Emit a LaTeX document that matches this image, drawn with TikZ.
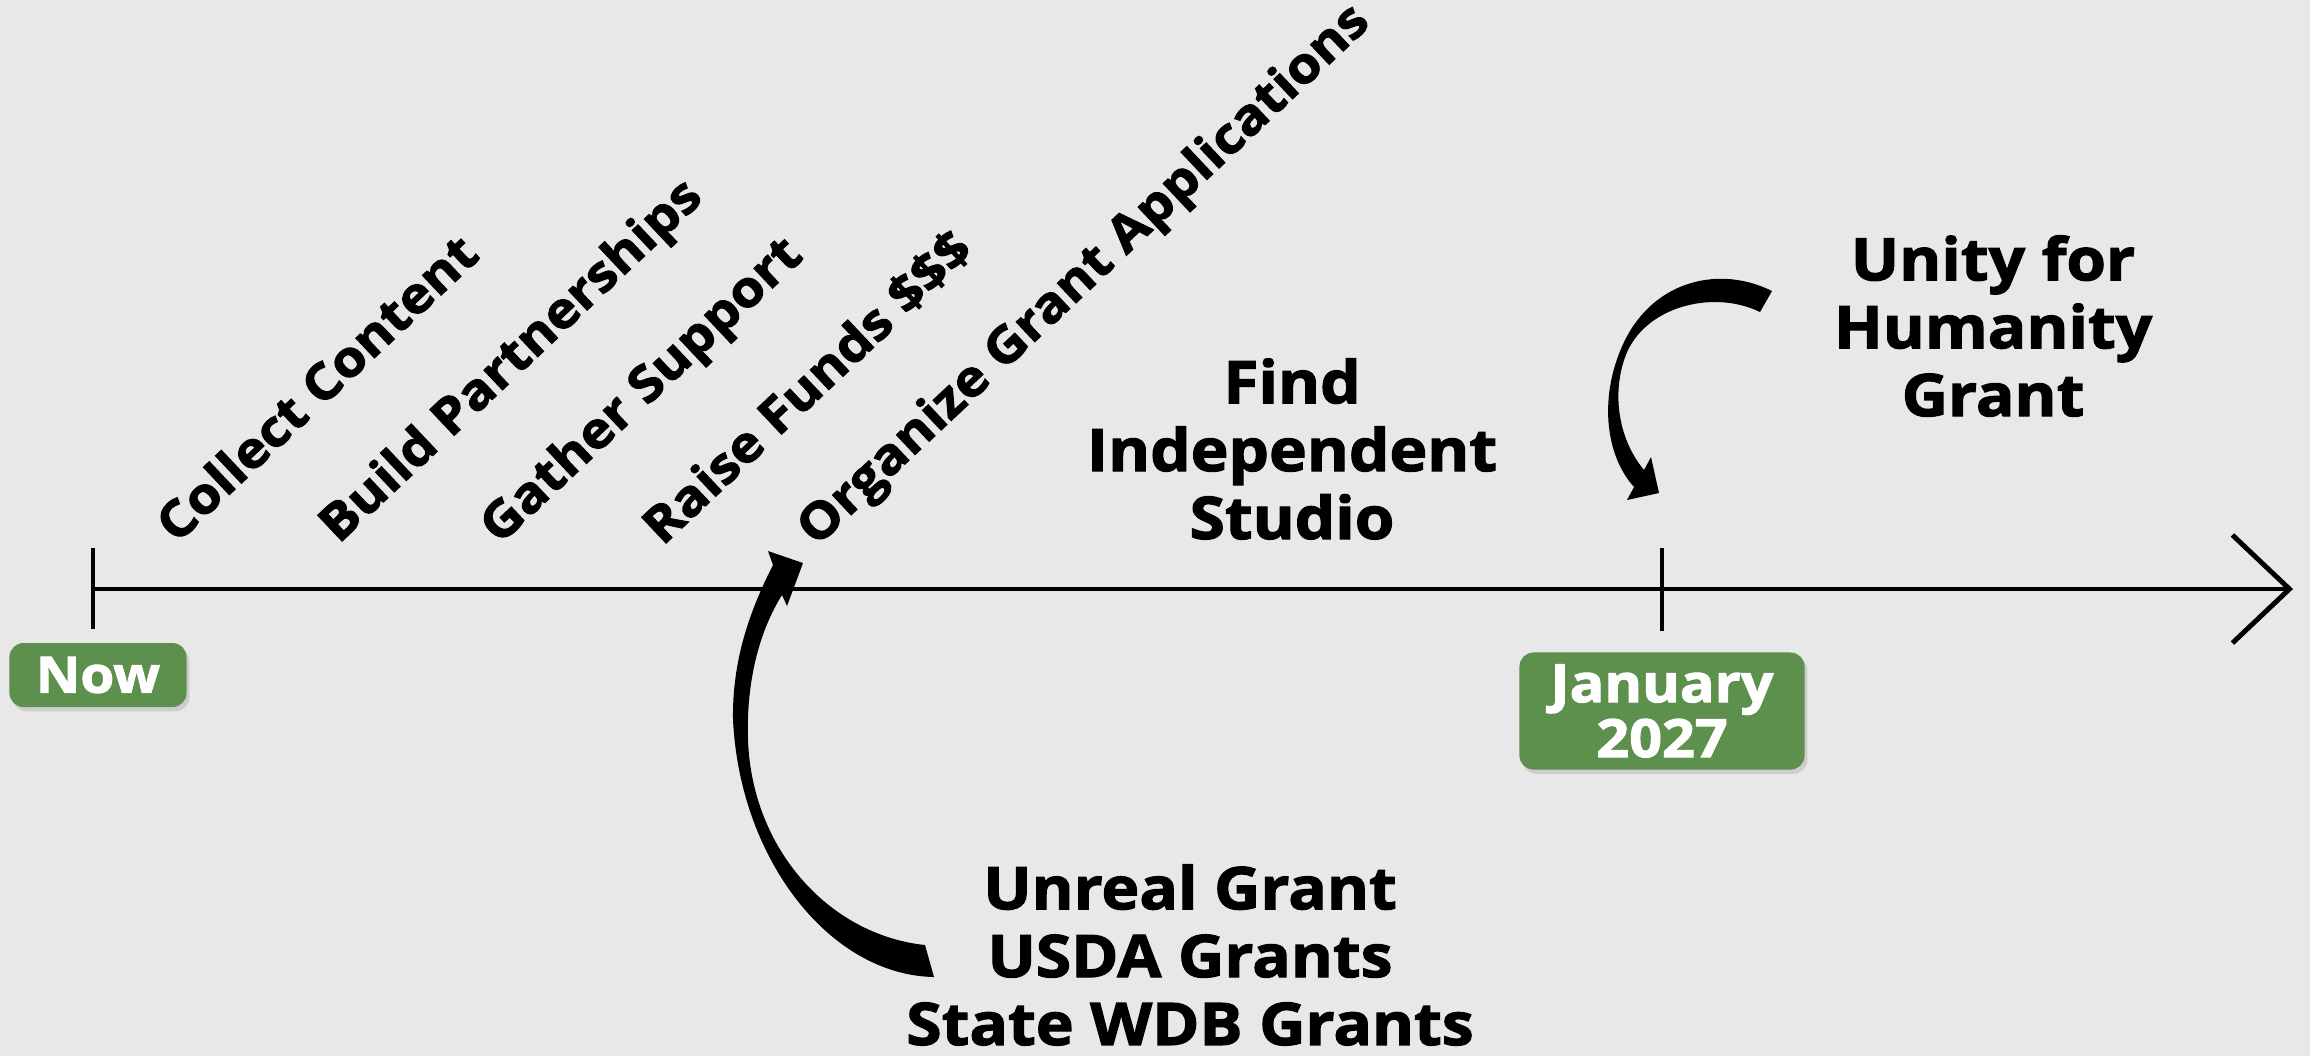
\documentclass[tikz,border=0pt]{standalone}
\usepackage{fontspec}
\setmainfont{Open Sans}[FakeStretch=1.09, BoldFeatures={FakeBold=2}]
\usetikzlibrary{arrows.meta,shadows}
\definecolor{bg}{RGB}{232,232,232}
\definecolor{boxgreen}{RGB}{93,143,77}
\begin{document}
\begin{tikzpicture}[x=0.01cm,y=-0.01cm,
  big/.style={font=\bfseries\fontsize{16.7}{19.3}\selectfont, align=center, inner sep=0pt},
  diag/.style={font=\bfseries\fontsize{14.2}{16}\selectfont, rotate=43.3, anchor=base west, inner sep=0pt},
  datebox/.style={fill=boxgreen, rounded corners=4pt, text=white, align=center, inner sep=0pt,
    drop shadow={opacity=0.25, shadow xshift=0.8pt, shadow yshift=-1.2pt}},
  axisline/.style={line width=1.2pt, draw=black},
  tickline/.style={line width=1.2pt, draw=black},
  bigarrow/.style={fill=black}]
\fill[bg] (0,0) rectangle (2310,1056);
\useasboundingbox (0,0) rectangle (2310,1056);

% timeline
\coordinate (t0) at (93,589);
\coordinate (t1) at (1662,589);
\coordinate (tend) at (2293,589);
\draw[axisline, -{Straight Barb[length=0.57cm, width=1.08cm, line width=1.4pt]}] (t0) -- (tend);
\draw[tickline] (t0) +(0,-41) -- +(0,40);
\draw[tickline] (t1) +(0,-41) -- +(0,42);

% date boxes
\node[datebox, minimum width=1.77cm, minimum height=0.64cm,
  font=\bfseries\fontsize{14.3}{16}\selectfont] (now) at (98,675) {Now};
\node[datebox, minimum width=2.85cm, minimum height=1.17cm,
  font=\bfseries\fontsize{15}{15.6}\selectfont] (jan) at (1662,711) {January\\2027};

% diagonal labels
\node[diag] (l1) at (176,545) {Collect Content};
\node[diag] (l2) at (338,545) {Build Partnerships};
\node[diag] (l3) at (499,546) {Gather Support};
\node[diag] (l4) at (662,547) {Raise Funds \$\$\$};
\node[diag] (l5) at (816,548) {Organize Grant Applications};

% big labels
\node[big] (find) at (1292,449) {Find\\Independent\\Studio};
\node[big] (unity) at (1993,326) {Unity for\\Humanity\\Grant};
\node[big] (unreal) at (1190,955) {Unreal Grant\\USDA Grants\\State WDB Grants};

% curved arrow: grants -> organize
\fill[bigarrow] (773,565) .. controls (750,610) and (732,660) .. (733,720)
  .. controls (740,860) and (830,975) .. (934,977)
  -- (925,945) .. controls (830,935) and (752,850) .. (748,740)
  .. controls (746,680) and (760,630) .. (782,595)
  -- (787,606) -- (803,563) -- (768,551) -- cycle;

% curved arrow: unity -> january
\fill[bigarrow] (1772,291) .. controls (1720,265) and (1655,280) .. (1625,340)
  .. controls (1598,395) and (1605,455) .. (1634,487)
  -- (1627,500) -- (1659,493) -- (1651,457) -- (1644,470)
  .. controls (1615,435) and (1612,385) .. (1628,350)
  .. controls (1650,305) and (1715,290) .. (1760,312) -- cycle;
\end{tikzpicture}
\end{document}
